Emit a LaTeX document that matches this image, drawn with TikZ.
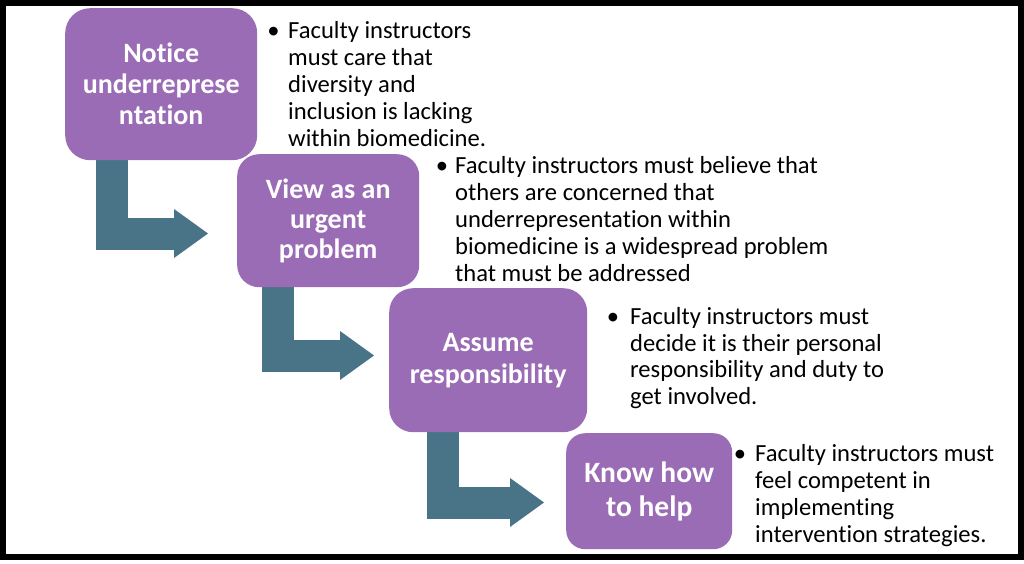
\documentclass[tikz,border=0pt]{standalone}
\usepackage{fontspec}
\setmainfont{Carlito}[Ligatures=NoCommon]
\usetikzlibrary{arrows.meta}
\definecolor{boxpurple}{RGB}{155,108,182}
\definecolor{flowteal}{RGB}{73,115,135}
\begin{document}
\begin{tikzpicture}[x=1pt,y=-1pt,
  stepbox/.style={fill=boxpurple, inner sep=0pt, text=white, align=center,
    anchor=north west},
  flow/.style={draw=flowteal, line width=32pt, line join=miter,
    -{Triangle[length=34pt,width=49pt,line width=0pt]}},
  note/.style={anchor=base west, inner sep=0pt, text=black}]
\useasboundingbox (0,0) rectangle (1024,564);
\fill[white] (0,0) rectangle (1024,564);
% arrows (under boxes)
\coordinate (a1s) at (112,150);
\coordinate (a1e) at (208,233.5);
\coordinate (a2s) at (278,282);
\coordinate (a2e) at (374,355.5);
\coordinate (a3s) at (443,429);
\coordinate (a3e) at (544,502.5);
\draw[flow] (a1s) |- (a1e);
\draw[flow] (a2s) |- (a2e);
\draw[flow] (a3s) |- (a3e);
% boxes
\node[stepbox, rounded corners=25pt, minimum width=192pt, minimum height=152pt,
  font=\fontsize{28}{31}\selectfont\bfseries] (b1) at (65,8)
  {Notice\\underreprese\\ntation};
\node[stepbox, rounded corners=22pt, minimum width=182pt, minimum height=133pt,
  font=\fontsize{28}{30}\selectfont\bfseries] (b2) at (237,154)
  {View as an\\urgent\\problem};
\node[stepbox, rounded corners=24pt, minimum width=198pt, minimum height=144pt,
  font=\fontsize{28}{32}\selectfont\bfseries] (b3) at (389,288)
  {Assume\\responsibility};
\node[stepbox, rounded corners=19pt, minimum width=166pt, minimum height=116pt,
  font=\fontsize{29.5}{34}\selectfont\bfseries] (b4) at (566,433)
  {Know how\\to help};
% notes
\node[note, font=\fontsize{24.6}{27}\selectfont] (t1) at (288,39)
  {\begin{tabular}[t]{@{}l@{}}\llap{•\hspace{8.5pt}}Faculty instructors\\must care that\\diversity and\\inclusion is lacking\\within biomedicine.\end{tabular}};
\node[note, font=\fontsize{24.6}{27}\selectfont] (t2) at (455,173.5)
  {\begin{tabular}[t]{@{}l@{}}\llap{•\hspace{7pt}}Faculty instructors must believe that\\others are concerned that\\underrepresentation within\\biomedicine is a widespread problem\\that must be addressed\end{tabular}};
\node[note, font=\fontsize{24.6}{26.5}\selectfont] (t3) at (630,324.5)
  {\begin{tabular}[t]{@{}l@{}}\llap{•\hspace{11pt}}Faculty instructors must\\decide it is their personal\\responsibility and duty to\\get involved.\end{tabular}};
\node[note, font=\fontsize{24.6}{27}\selectfont] (t4) at (755,461)
  {\begin{tabular}[t]{@{}l@{}}\llap{•\hspace{9pt}}Faculty instructors must\\feel competent in\\implementing\\intervention strategies.\end{tabular}};
% frame
\draw[line width=6pt] (3,3) rectangle (1021,556.5);
\end{tikzpicture}
\end{document}
